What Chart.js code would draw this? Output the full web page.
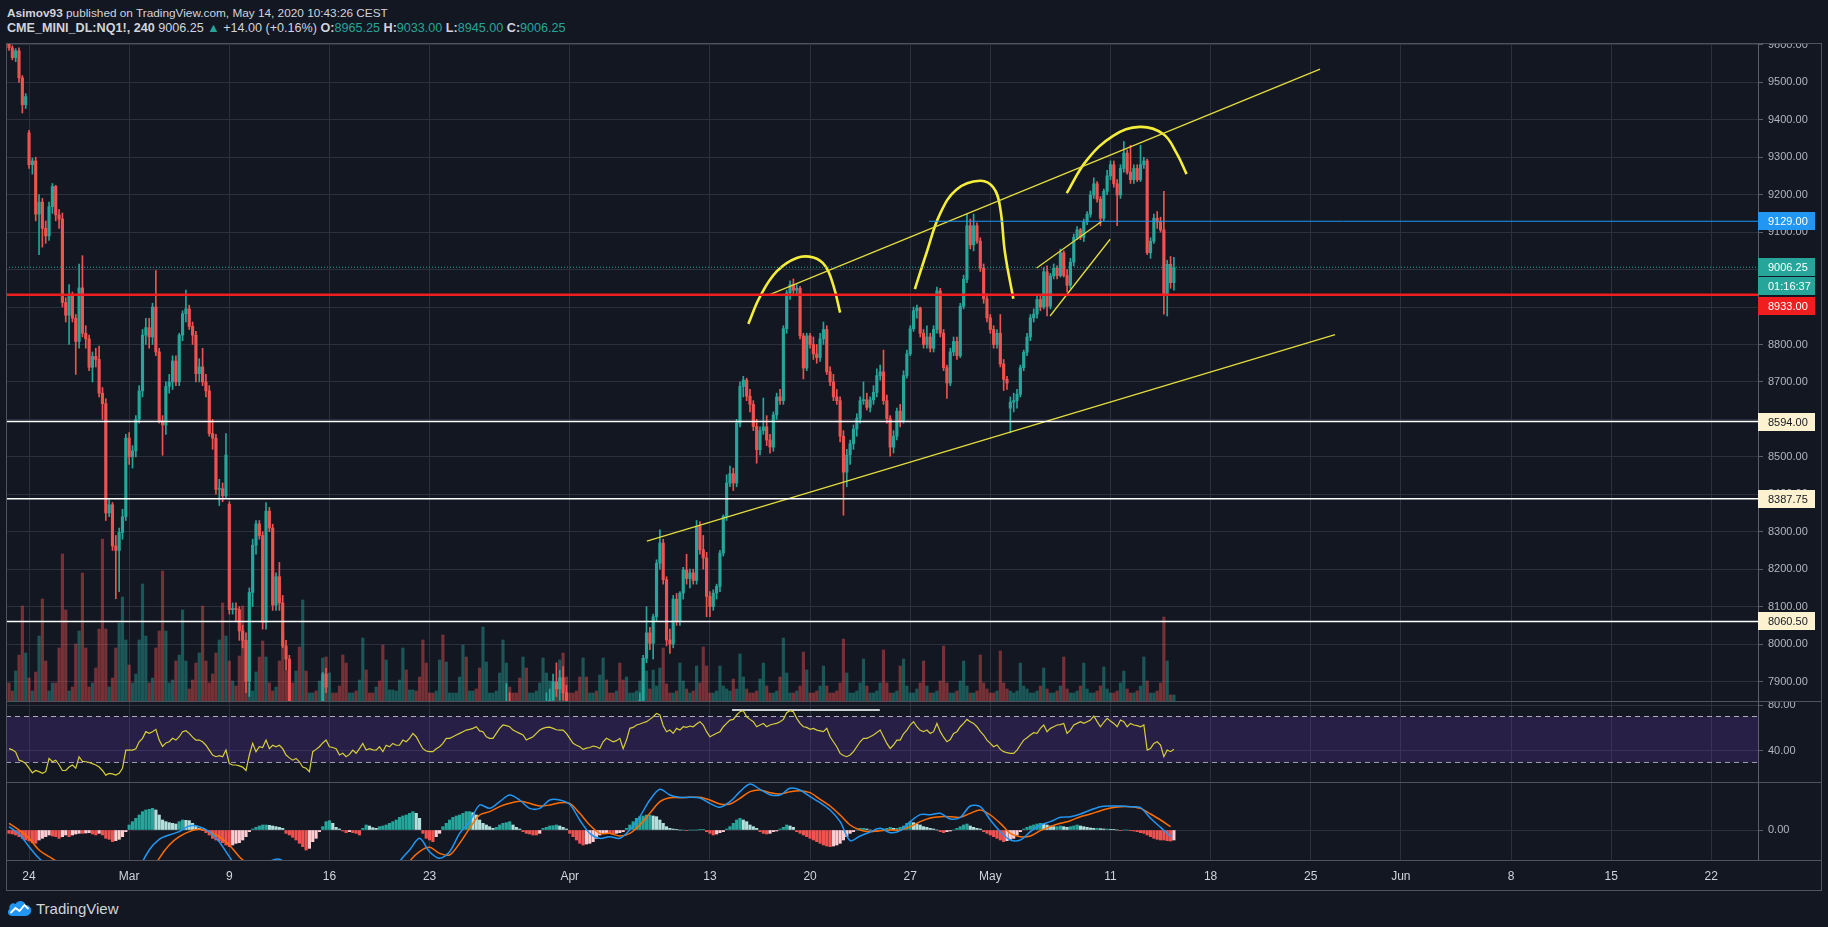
<!DOCTYPE html>
<html lang="en">
<head>
<meta charset="UTF-8">
<title>CME_MINI_DL:NQ1!, 240</title>
<script src="https://cdn.jsdelivr.net/npm/chart.js"></script>
<style>
  html, body { margin: 0; padding: 0; background: #131722; }
  body { width: 1828px; height: 927px; position: relative; overflow: hidden;
         font-family: "Liberation Sans", Arial, sans-serif; }
  .hdr { position: absolute; left: 7px; color: #d1d4dc; white-space: nowrap; }
  #h1 { top: 6px; font-size: 11.8px; }
  #h2 { top: 21px; font-size: 12.6px; }
  .b { font-weight: bold; }
  .up { color: #26a69a; }
  canvas { position: absolute; left: 6px; }
  .sep { position: absolute; left: 6px; width: 1816px; height: 1px; background: #50535e; }
  .frame { position: absolute; left: 6px; top: 43px; width: 1816px; height: 848px;
           border: 1px solid #50535e; box-sizing: border-box; }
  #logo { position: absolute; left: 6px; top: 898px; height: 20px; display: flex; align-items: center;
          color: #d1d4dc; font-size: 15px; }
  #logo svg { margin-right: 3px; }
</style>
</head>
<body>
<div class="hdr" id="h1"><span class="b">Asimov93</span> published on TradingView.com, May 14, 2020 10:43:26 CEST</div>
<div class="hdr" id="h2"><span class="b">CME_MINI_DL:NQ1!, 240</span> 9006.25 <span class="up">▲</span> +14.00 (+0.16%) <span class="b">O:</span><span class="up">8965.25</span> <span class="b">H:</span><span class="up">9033.00</span> <span class="b">L:</span><span class="up">8945.00</span> <span class="b">C:</span><span class="up">9006.25</span></div>

<canvas id="cPrice" width="1816" height="658" style="top:43px"></canvas>
<canvas id="cRsi" width="1816" height="81" style="top:701px"></canvas>
<canvas id="cMacd" width="1816" height="108" style="top:782px"></canvas>

<div class="frame"></div>
<div class="sep" style="top:701px"></div>
<div class="sep" style="top:782px"></div>
<div class="sep" style="top:860px"></div>

<div id="logo">
  <svg width="27" height="18" viewBox="0 0 26 18">
    <path d="M6 17 C1 17 0 12 3 10 C2 6 6 3 9 5 C11 1 18 1 19 6 C24 6 26 11 24 14 C23 16 21 17 19 17 Z" fill="#2196f3"/>
    <path d="M4 14 L9 9 L13 12 L18 6 L22 10" stroke="#ffffff" stroke-width="1.8" fill="none"/>
  </svg>
  <span>TradingView</span>
</div>

<script>
// ---------- axis ticks / labels ----------
const timeLabels    = ['24', 'Mar', '9', '16', '23', 'Apr', '13', '20', '27', 'May', '11', '18', '25', 'Jun', '8', '15', '22'];
const timeLabelBars = [6, 36, 66, 96, 126, 168, 210, 240, 270, 294, 330, 360, 390, 417, 450, 480, 510];
const priceTicks = [7900, 8000, 8100, 8200, 8300, 8400, 8500, 8600, 8700, 8800, 8900, 9000, 9100, 9200, 9300, 9400, 9500, 9600];
const rsiTicks = [40, 80];
const macdTicks = [0];

// ---------- 4h candles [open, high, low, close], one row per session day ----------
const candles = [
  [9612,9618,9585,9592],[9592,9598,9560,9566],[9566,9590,9555,9584],[9584,9592,9500,9512],[9512,9518,9418,9440],[9440,9470,9430,9462], // Feb 21
  [9365,9372,9270,9280],[9280,9298,9255,9290],[9290,9300,9130,9148],[9148,9200,9040,9180],[9180,9190,9060,9110],[9110,9130,9070,9090], // Feb 24
  [9090,9180,9078,9168],[9168,9230,9150,9222],[9222,9225,9130,9146],[9146,9160,9110,9135],[9135,9151,8900,8912],[8912,8925,8860,8878],
  [8878,8960,8800,8930],[8930,8940,8860,8870],[8870,8880,8720,8808],[8808,9015,8790,8951],[8951,9037,8820,8830],[8830,8850,8790,8815],
  [8815,8825,8730,8739],[8739,8780,8700,8768],[8768,8790,8740,8760],[8760,8796,8660,8670],[8670,8685,8600,8642],[8642,8655,8330,8350],
  [8350,8385,8340,8372],[8372,8378,8250,8262],[8262,8290,8121,8250],[8250,8310,8140,8298],[8298,8360,8280,8340],[8340,8560,8330,8550], // Feb 28
  [8550,8565,8480,8500],[8500,8530,8470,8516],[8516,8610,8500,8600],[8600,8690,8590,8676],[8676,8840,8660,8825],[8825,8870,8800,8845], // Mar 2
  [8845,8870,8790,8820],[8820,8910,8800,8900],[8900,8997,8770,8780],[8780,8790,8590,8596],[8596,8610,8504,8585],[8585,8700,8560,8688],
  [8688,8720,8670,8700],[8700,8770,8680,8756],[8756,8770,8690,8700],[8700,8830,8690,8825],[8825,8890,8810,8882],[8882,8945,8860,8895],
  [8895,8905,8840,8848],[8848,8860,8800,8825],[8825,8835,8700,8722],[8722,8762,8700,8740],[8740,8790,8690,8700],[8700,8720,8660,8676],
  [8676,8690,8555,8562],[8562,8600,8520,8550],[8550,8560,8400,8413],[8413,8440,8370,8415],[8415,8430,8380,8396],[8396,8562,8390,8505],
  [8373,8380,8080,8092],[8092,8110,8080,8095],[8095,8110,8060,8092],[8092,8100,8010,8035],[8035,8050,7990,8010],[8010,8030,7870,7900], // Mar 9
  [7900,8150,7860,8138],[8138,8280,8100,8264],[8264,8330,8240,8321],[8321,8330,8280,8290],[8290,8300,8040,8058],[8058,8378,8040,8355],
  [8355,8365,8300,8310],[8310,8320,8090,8104],[8104,8190,8090,8180],[8180,8218,8090,8110],[8110,8130,7990,7995],[7995,8010,7930,7960],
  [7960,7970,7700,7720],[7720,7740,7500,7530],[7530,7600,7480,7560],[7560,7620,7350,7400],[7400,7550,7300,7480],[7480,7520,7330,7380],
  [7380,7600,7300,7560],[7560,7700,7500,7650],[7650,7720,7520,7600],[7600,7800,7580,7780],[7780,7925,7740,7920],[7920,7935,7870,7885],
  [7400,7480,7350,7420],[7420,7450,7300,7380],[7380,7420,7250,7300],[7300,7350,7100,7150],[7150,7250,7000,7050],[7050,7150,6950,7000], // Mar 16
  [7000,7150,6900,7100],[7100,7250,7050,7200],[7200,7300,7100,7150],[7150,7350,7100,7300],[7300,7450,7250,7400],[7400,7450,7300,7350],
  [7350,7380,7100,7150],[7150,7200,6950,7000],[7000,7100,6900,7050],[7050,7150,6950,7000],[7000,7050,6800,6850],[6850,7000,6800,6950],
  [6950,7050,6850,7000],[7000,7100,6950,7050],[7050,7200,7000,7150],[7150,7300,7100,7250],[7250,7350,7150,7300],[7300,7350,7200,7250],
  [7250,7400,7200,7350],[7350,7450,7300,7400],[7400,7420,7250,7300],[7300,7350,7100,7150],[7150,7200,7000,7050],[7050,7100,6950,7000],
  [6900,6950,6750,6800],[6800,6850,6650,6700],[6700,6850,6630,6800],[6800,6950,6750,6900],[6900,7000,6800,6850],[6850,7050,6830,7000], // Mar 23
  [7000,7150,6980,7100],[7100,7250,7050,7200],[7200,7350,7150,7300],[7300,7450,7250,7400],[7400,7500,7350,7450],[7450,7500,7380,7420],
  [7420,7550,7400,7500],[7500,7600,7450,7550],[7550,7650,7350,7400],[7400,7450,7250,7300],[7300,7450,7280,7400],[7400,7500,7350,7450],
  [7450,7550,7400,7500],[7500,7600,7450,7550],[7550,7650,7500,7620],[7620,7720,7580,7700],[7700,7800,7650,7780],[7780,7895,7760,7840],
  [7840,7870,7700,7720],[7720,7750,7600,7650],[7650,7700,7550,7600],[7600,7650,7500,7550],[7550,7650,7500,7600],[7600,7620,7500,7540],
  [7500,7600,7450,7550],[7550,7650,7520,7620],[7620,7700,7600,7680],[7680,7780,7650,7750],[7750,7830,7720,7800],[7800,7870,7780,7830], // Mar 30
  [7830,7880,7780,7850],[7850,7920,7820,7900],[7900,7950,7860,7880],[7880,7930,7850,7910],[7910,7940,7850,7870],[7870,7890,7750,7780],
  [7760,7780,7600,7620],[7620,7650,7500,7550],[7550,7600,7450,7500],[7500,7550,7400,7450],[7450,7550,7420,7520],[7520,7560,7460,7480], // Apr 1
  [7480,7550,7420,7500],[7500,7580,7450,7550],[7550,7600,7480,7520],[7520,7650,7500,7620],[7620,7700,7580,7660],[7660,7690,7600,7640],
  [7640,7660,7550,7580],[7580,7620,7500,7540],[7540,7600,7480,7560],[7560,7580,7450,7480],[7480,7520,7420,7460],[7460,7500,7440,7490],
  [7560,7640,7540,7620],[7620,7700,7600,7680],[7680,7800,7660,7780],[7780,7870,7760,7850],[7850,7970,7840,7962],[7962,8100,7950,8030], // Apr 6
  [8030,8045,7985,8002],[8002,8080,7960,8073],[8073,8225,8060,8216],[8216,8305,8200,8270],[8270,8280,8160,8172],[8172,8180,7995,8011],
  [8011,8040,7975,8000],[8000,8130,7990,8120],[8120,8135,8050,8060],[8060,8140,8050,8136],[8136,8205,8120,8198],[8198,8240,8160,8175],
  [8175,8200,8150,8190],[8190,8200,8160,8170],[8170,8330,8160,8314],[8314,8327,8240,8252],[8252,8290,8200,8230],[8230,8245,8073,8127],
  [8127,8140,8073,8100],[8100,8145,8090,8136],[8136,8160,8120,8154],[8154,8250,8140,8243],[8243,8345,8235,8341],[8341,8452,8330,8430], // Apr 13
  [8430,8475,8420,8455],[8455,8470,8410,8430],[8430,8600,8420,8590],[8590,8700,8580,8688],[8688,8715,8660,8705],[8705,8710,8650,8662],
  [8662,8680,8620,8640],[8640,8650,8570,8581],[8581,8600,8483,8519],[8519,8580,8505,8570],[8570,8657,8560,8580],[8580,8610,8530,8545],
  [8545,8560,8510,8526],[8526,8620,8515,8612],[8612,8670,8600,8660],[8660,8680,8640,8650],[8650,8850,8640,8842],[8842,8945,8830,8938],
  [8938,8970,8920,8960],[8960,8975,8930,8945],[8945,8960,8930,8950],[8950,8955,8815,8823],[8823,8830,8708,8737],[8737,8830,8730,8823],
  [8823,8830,8790,8800],[8800,8820,8760,8775],[8775,8800,8750,8765],[8765,8830,8755,8815],[8815,8860,8800,8840],[8840,8850,8720,8727], // Apr 20
  [8727,8740,8690,8700],[8700,8720,8650,8660],[8660,8680,8640,8650],[8650,8660,8540,8555],[8555,8570,8344,8459],[8459,8520,8420,8505],
  [8505,8545,8480,8535],[8535,8585,8520,8574],[8574,8615,8555,8603],[8603,8660,8590,8650],[8650,8700,8640,8652],[8652,8670,8625,8632],
  [8632,8660,8620,8652],[8652,8690,8640,8672],[8672,8735,8660,8717],[8717,8745,8705,8727],[8727,8785,8640,8650],[8650,8665,8590,8602],
  [8602,8610,8502,8526],[8526,8570,8510,8555],[8555,8630,8545,8622],[8622,8640,8580,8595],[8595,8730,8590,8717],[8717,8785,8710,8775],
  [8775,8850,8770,8842],[8842,8900,8835,8890],[8890,8905,8870,8897],[8897,8900,8820,8830],[8830,8840,8790,8800],[8800,8850,8790,8820], // Apr 27
  [8820,8830,8780,8790],[8790,8850,8780,8840],[8840,8953,8830,8943],[8943,8950,8820,8830],[8830,8840,8730,8738],[8738,8745,8656,8697],
  [8697,8790,8690,8780],[8780,8820,8770,8808],[8808,8820,8760,8770],[8770,8910,8765,8902],[8902,8985,8895,8974],[8974,9148,8965,9117],
  [9117,9135,9055,9066],[9066,9148,9050,9117],[9117,9125,9070,9076],[9076,9085,8995,9004],[9004,9015,8910,8922],[8922,8935,8860,8871],
  [8871,8880,8830,8840],[8840,8850,8790,8800],[8800,8840,8790,8830],[8830,8880,8740,8748],[8748,8760,8677,8707],[8707,8715,8680,8697], // May 1
  [8630,8660,8564,8646],[8646,8670,8620,8650],[8650,8680,8630,8667],[8667,8745,8660,8738],[8738,8785,8730,8779],[8779,8830,8770,8820], // May 4
  [8820,8880,8810,8871],[8871,8895,8860,8881],[8881,8930,8870,8920],[8920,8930,8890,8900],[8900,9005,8895,8994],[8994,9010,8876,8902],
  [8902,8990,8895,8983],[8983,9015,8975,9004],[9004,9010,8975,8984],[8984,9055,8980,9045],[9045,9050,8980,8984],[8984,9000,8940,8958],
  [8958,9030,8950,9020],[9020,9095,9010,9086],[9086,9115,9080,9106],[9106,9110,9080,9086],[9086,9135,9075,9127],[9127,9155,9120,9148],
  [9148,9210,9140,9199],[9199,9245,9190,9229],[9229,9235,9180,9188],[9188,9195,9117,9137],[9137,9215,9130,9209],[9209,9265,9200,9250],
  [9250,9290,9240,9280],[9280,9290,9220,9229],[9229,9240,9117,9199],[9199,9280,9190,9270],[9270,9342,9260,9311],[9311,9320,9255,9260], // May 11
  [9260,9332,9230,9240],[9240,9280,9230,9270],[9270,9280,9235,9240],[9240,9332,9235,9280],[9280,9300,9270,9290],[9290,9295,9040,9045],
  [9045,9085,9030,9076],[9076,9148,9070,9137],[9137,9155,9110,9127],[9127,9140,9100,9106],[9106,9209,8881,8933],[8933,9025,8876,9014],
  [9014,9035,8950,8965],[8965,9033,8945,9006.25]
];

// volume per bar (k contracts)
const volumes = [
  18,10,30,46,95,48,  23,10,29,65,102,40,  10,18,18,53,147,91,  10,14,57,70,128,53,  14,18,33,72,162,72,
  14,23,53,78,104,61, 36,18,27,61,117,65,  18,23,53,70,130,70,  18,21,40,46,91,40,   12,21,38,48,95,40,
  18,27,48,61,98,65,  40,20,15,45,95,60,   18,10,29,44,60,44,   18,10,14,40,70,30,   18,18,30,54,101,30,
  8,8,10,20,43,44,    28,8,8,15,46,38,     8,8,10,21,63,31,     8,8,14,20,56,41,     11,11,10,21,53,31,
  11,11,10,24,61,38,  8,8,10,41,66,39,     8,8,8,24,56,44,      10,10,12,33,74,39,   8,8,10,28,61,38,
  14,8,8,23,44,33,    8,8,10,18,43,28,     20,10,15,41,48,24,   8,8,10,24,43,24,     8,8,10,26,43,21,
  8,8,10,38,21,24,    8,8,10,20,43,30,     12,31,15,33,53,17,   8,8,10,38,20,12,     8,10,35,18,54,35,
  8,8,10,35,15,12,    10,22,12,47,24,12,   8,8,10,22,38,15,     8,8,10,24,63,28,     8,8,10,15,49,31,
  8,8,10,15,35,15,    8,8,10,18,62,28,     8,8,10,18,42,15,     8,8,10,18,51,18,     8,8,10,35,42,15,
  8,8,12,18,40,15,    8,8,10,20,55,18,     8,8,10,20,40,15,     8,8,10,46,18,12,     8,8,10,50,18,12,
  10,8,10,38,15,12,   8,8,10,15,33,12,     8,8,10,15,44,12,     8,8,10,15,38,12,     8,8,10,15,34,12,
  8,8,10,18,30,12,    8,8,10,15,44,20,     8,8,10,18,84,40,     6,6
];

// RSI(14) per bar
const rsiValues = [
  42,41,39,32,31,29,  25,21,23,22,20.5,22,  33.5,30.6,32,28,23,23,  26,27.8,25,35,31,30.6,  30,29,27.8,26,23,19,
  20.5,20,19,20.5,25,40.8,  40.8,40.8,42,48,51,56.8,  55.3,56.8,58.8,49.5,44,47,  48,51,49.5,52.4,56.8,57.6,
  55.3,52,49.5,49.5,48,45,  40.8,36.5,35,36,35,40.8,  29,27.8,27.8,27,26,23,  36.5,46.6,39.4,43.7,43,49.5,
  42,45,43.7,45,42,36.5,  34,32,33.5,30.6,26,25,  22,39.4,41.4,43.7,47,49.5,  43.7,43,42,36.5,38,35,
  37,40.8,38,42,46.6,40.8,  42,41,40.8,43.7,39.4,45,  43.7,46.6,45,45,49.5,48,  51,55.3,52.4,47,42,40,
  39.4,39.4,42,43.7,46.6,51,  51,52.4,53.9,55.3,56.8,58.2,  58.8,59.7,61.1,57.5,56.8,52.4,  51,51,55.3,59.7,62.6,62,
  61.1,58.2,56.8,55.3,53.9,49.5,  51,52.4,55.3,58.2,59.7,60.5,  60.8,59.7,58.5,58.2,58.2,55.3,  51,46.6,45,43.7,41.4,42.5,
  43,44.3,43.7,42.2,48,51,  49.5,48,49,51,42,49.5,  59.7,60.5,62.6,63.5,64.6,65.5,  67.5,69.8,72.7,71.3,62,56.8,
  58.2,55.3,59.7,58.2,61.1,60.5,  61.7,61.1,63.5,65.5,62.6,56.8,  52.4,53.9,55.5,56.8,61.1,64,  66.9,67.5,71.3,74.2,75,69.8,
  67.5,65.5,61.1,62.6,64,61.1,  62.6,63.5,64,65.5,67.5,73.3,  75,74.2,68.4,64,61.1,60.5,  58.8,59.7,58.2,57.5,56.8,59.7,
  52.4,48,43.7,37.9,36,35,  36.5,39.4,43.7,48,51,51,  52.4,53.9,56,58.2,52.4,46.6,  42.2,45.2,49.5,49.5,55,58.2,
  62.6,65.5,61.1,58,56.8,58.2,  55.3,56.8,64,56.8,52,48,  50,55.3,56.8,61.1,64,67.5,  65.5,64,61.1,57,53.9,49.5,
  46.6,43.7,45.2,41.4,39.4,38.5,  37.9,37.9,40.8,45.2,49.5,51.5,  53.9,55.9,55.3,59.7,62.6,56.8,  59.7,61.1,62.6,63,64,55.3,
  58.2,62.6,64,65.5,64,65.5,  66.9,70.4,65.5,61.1,65,68.4,  66,64,61.1,66.9,65.5,61.1,  64,62.6,62,61.1,62.6,40.8,
  42.2,46.6,48,45.2,35,40.8,  39.4,41.5
];

// MACD(12,26,9): lines read every 3rd bar, histogram per bar
const macdStep = 3;
const macdLine = [
  10,-12,-50,-85,-110,-140,-170,-185,-200,-215,
  -240,-250,-230,-120,-60,-28,-15,-5,12,10,
  -5,-35,-80,-120,-140,-120,-95,-88,-110,-150,
  -190,-200,-210,-230,-240,-230,-220,-210,-150,-95,
  -60,-25,-65,-85,-65,-10,25,75,65,85,
  105,90,65,65,90,90,77,30,-10,-25,
  -20,-25,0,40,90,122,105,98,98,96,
  80,68,85,115,138,122,106,105,125,120,
  100,82,60,25,-32,-18,-6,5,-8,-2,
  25,46,46,50,33,38,72,70,30,-5,
  -30,-30,-5,15,25,38,40,48,60,70,
  72,72,70,67,35,8,-20
];
const macdSignal = [
  20,0,-25,-60,-80,-98,-120,-140,-160,-178,
  -198,-213,-225,-190,-140,-85,-45,-20,-5,2,
  -5,-20,-45,-80,-105,-115,-110,-100,-100,-115,
  -135,-160,-175,-190,-205,-210,-212,-210,-200,-160,
  -95,-65,-52,-70,-75,-40,5,45,55,70,
  80,86,80,72,75,82,80,50,15,-10,
  -10,-18,-10,15,50,85,97,97,98,98,
  90,78,78,95,115,120,112,108,115,118,
  112,92,72,45,15,0,-5,-2,0,0,
  10,25,36,40,40,38,50,60,45,20,
  -10,-20,-18,-2,10,20,28,40,48,58,
  66,70,70,65,48,30,10
];
const macdHist = [
  -10,-12,-15,-20,-25,-30,  -33,-38,-40,-30,-25,-20,  -15,-18,-20,-25,-20,-15,  -20,-15,-12,-10,-10,-9,  -8,-12,-15,-10,-15,-25,
  -28,-35,-32,-28,-20,-5,  15,25,35,45,55,60,  62,65,60,45,30,25,  22,20,18,25,30,29,  28,20,12,5,-2,-8,
  -15,-25,-30,-33,-38,-45,  -50,-45,-40,-38,-30,-20,  -5,3,8,12,15,15,  14,12,10,8,5,-10,  -15,-22,-30,-40,-50,-60,
  -55,-35,-25,-5,10,25,  28,20,8,3,-3,-8,  -5,-8,-10,-15,5,15,  12,7,5,10,12,15,  20,25,30,38,42,45,
  50,55,50,35,-10,-25,  -30,-35,-20,-10,10,20,  30,38,42,45,50,55,  55,52,45,30,20,15,  10,5,8,15,20,22,
  25,15,8,3,-5,-10,  -12,-15,-15,-10,5,8,  12,13,15,12,8,3,  -10,-20,-30,-40,-45,-42,  -40,-35,-25,-15,-10,-8,
  -10,-12,-10,-8,-5,5,  15,25,35,40,42,45,  45,42,40,30,20,10,  5,3,1,0,0,-1,  0,0,0,1,2,-5,
  -10,-15,-12,-8,-5,3,  10,20,30,35,30,25,  15,10,5,-5,-10,-12,  -10,-5,-3,3,8,15,  12,8,-5,-10,-15,-20,
  -25,-30,-35,-40,-45,-48,  -50,-48,-45,-40,-30,-20,  -10,-5,0,5,5,3,  0,-3,-5,0,3,5,  8,5,5,8,12,20,
  25,22,18,15,10,8,  5,3,0,-5,-8,-5,  -3,0,5,10,15,18,  12,8,5,3,-5,-10,  -15,-20,-25,-30,-35,-32,
  -28,-25,-15,-5,3,8,  12,15,18,20,18,15,  12,10,10,12,10,8,  10,12,15,12,10,8,  6,5,5,4,3,3,
  2,1,0,-1,0,0,  -2,-3,-5,-8,-10,-15,  -20,-25,-28,-30,-30,-32,  -33,-30
];

// ---------- price levels and drawings (bar index, price) ----------
const lastPrice = 9006.25;
const countdown = '01:16:37';
const blueLevel = 9129;
const blueLevelStart = 275.6;
const redLevel = 8933;
const whiteLevels = [8594, 8387.75, 8060.5];
const lowerChannel = [[191.1, 8275], [397.3, 8826]];
const upperChannel = [[227.9, 8933], [392.8, 9535]];
const flagUpper = [[307.9, 9004], [327.4, 9129]];
const flagLower = [[311.9, 8876], [329.9, 9081]];
const arc1 = [[221.5, 8855], [225, 8928], [230, 8995], [236, 9031], [241, 9032], [244.5, 9010], [247, 8957], [249, 8885]];
const arc2 = [[271.4, 8948], [274.9, 9045], [278.9, 9148], [283.9, 9214], [290.9, 9237], [294.9, 9219], [296.9, 9168], [298.4, 9045], [300.9, 8922]];
const arc3 = [[316.9, 9204], [322.8, 9291], [330.8, 9357], [338.8, 9381], [345.8, 9362], [349.8, 9311], [352.8, 9255]];
const rsiMarker = [[216.6, 75.7], [260.9, 75.7]];

// ---------- look ----------
const X_MIN = -0.9, X_MAX = 524;
const GRID = '#2c303c', AXIS = '#5d606b', TXT = '#b2b5be';
const UP = '#26a69a', DOWN = '#ef5350';
const FONT = '"Liberation Sans", Arial, sans-serif';
Chart.defaults.font.family = FONT;
Chart.defaults.color = TXT;

const isUp = candles.map(c => c[3] >= c[0]);
const candleCol = isUp.map(u => (u ? UP : DOWN));
const volCol = isUp.map(u => (u ? 'rgba(38,166,154,0.45)' : 'rgba(239,83,80,0.45)'));

function line(points, color, width, extra) {
  return Object.assign({
    type: 'line',
    data: points.map(p => ({ x: p[0], y: p[1] })),
    borderColor: color, borderWidth: width,
    pointRadius: 0, tension: 0, fill: false, order: 0
  }, extra || {});
}
function hline(v, color, width, extra) {
  return line([[X_MIN, v], [X_MAX, v]], color, width, extra);
}
function noPad(s) {
  s.paddingTop = 0; s.paddingBottom = 0; s.paddingLeft = 0; s.paddingRight = 0;
}

function xScale(withLabels) {
  return {
    type: 'linear', min: X_MIN, max: X_MAX, offset: false,
    grid: { color: GRID, drawTicks: false, offset: false },
    border: { display: false },
    ticks: {
      display: withLabels, autoSkip: false, maxRotation: 0, padding: 9,
      color: '#d1d4dc', font: { size: 12 },
      callback: (v, i) => timeLabels[i]
    },
    afterBuildTicks: s => { s.ticks = timeLabelBars.map(v => ({ value: v })); },
    afterFit: s => { s.height = withLabels ? 30 : 0; noPad(s); }
  };
}
function yScale(min, max, ticks) {
  return {
    position: 'right', min, max,
    grid: { color: GRID, tickLength: 5, tickColor: AXIS },
    border: { display: true, color: AXIS },
    ticks: { color: TXT, font: { size: 11 }, padding: 5, callback: v => v.toFixed(2) },
    afterBuildTicks: s => { s.ticks = ticks.map(v => ({ value: v })); },
    afterFit: s => { s.width = 64; noPad(s); }
  };
}
const baseOptions = {
  responsive: false, animation: false, devicePixelRatio: 1, events: [],
  layout: { padding: 0 },
  plugins: { legend: { display: false }, tooltip: { enabled: false } }
};

// price-axis tags (last price, countdown, levels)
const axisTags = {
  id: 'axisTags',
  afterDraw(chart) {
    const { ctx, chartArea, scales } = chart;
    const y = scales.y;
    const x0 = chartArea.right, w = 57, h = 18;
    ctx.save();
    ctx.font = '11px ' + FONT;
    ctx.textBaseline = 'middle';
    const tag = (cy, text, bg, fg) => {
      ctx.fillStyle = bg;
      ctx.fillRect(x0, Math.round(cy - h / 2), w, h);
      ctx.fillStyle = fg;
      ctx.fillText(text, x0 + 10, Math.round(cy) + 0.5);
    };
    whiteLevels.forEach(v => tag(y.getPixelForValue(v), v.toFixed(2), '#fdf2cf', '#131722'));
    tag(y.getPixelForValue(blueLevel), blueLevel.toFixed(2), '#2196f3', '#ffffff');
    const cLast = y.getPixelForValue(lastPrice);
    const cCount = cLast + h + 1;
    const cRed = Math.max(y.getPixelForValue(redLevel), cCount + h + 2);
    tag(cRed, redLevel.toFixed(2), '#f01e1e', '#ffffff');
    tag(cLast, lastPrice.toFixed(2), UP, '#ffffff');
    tag(cCount, countdown, UP, '#ffffff');
    ctx.restore();
  }
};

// ---------- price pane ----------
new Chart(document.getElementById('cPrice'), {
  type: 'bar',
  data: {
    datasets: [
      { type: 'bar', yAxisID: 'yVol', order: 10, grouped: false, barThickness: 2.5,
        data: volumes.map((v, i) => ({ x: i, y: v })), backgroundColor: volCol },
      { type: 'bar', order: 6, grouped: false, barThickness: 1,
        data: candles.map((c, i) => ({ x: i, y: [c[2], c[1]] })), backgroundColor: candleCol },
      { type: 'bar', order: 5, grouped: false, barThickness: 2.5, minBarLength: 1,
        data: candles.map((c, i) => ({ x: i, y: [c[0], c[3]] })), backgroundColor: candleCol },
      ...whiteLevels.map(v => hline(v, '#ffffff', 1.5)),
      hline(lastPrice, UP, 1, { borderDash: [1, 2] }),
      line([[blueLevelStart, blueLevel], [X_MAX, blueLevel]], '#2196f3', 1),
      hline(redLevel, '#f01e1e', 2.5),
      line(lowerChannel, '#e3dc3c', 1.3),
      line(upperChannel, '#e3dc3c', 1.3),
      line(flagUpper, '#e3dc3c', 1.3),
      line(flagLower, '#e3dc3c', 1.3),
      line(arc1, '#f4ee3a', 2.6, { tension: 0.4 }),
      line(arc2, '#f4ee3a', 2.6, { tension: 0.4 }),
      line(arc3, '#f4ee3a', 2.6, { tension: 0.4 })
    ]
  },
  options: Object.assign({}, baseOptions, {
    scales: {
      x: xScale(false),
      y: yScale(7848, 9605, priceTicks),
      yVol: { display: false, min: 0, max: 658 }
    }
  }),
  plugins: [axisTags]
});

// ---------- RSI pane ----------
new Chart(document.getElementById('cRsi'), {
  type: 'line',
  data: {
    datasets: [
      hline(70, 'rgba(220,222,230,0.75)', 1, { borderDash: [5, 4], fill: '+1', backgroundColor: 'rgba(103,58,183,0.24)', order: 5 }),
      hline(30, 'rgba(220,222,230,0.75)', 1, { borderDash: [5, 4], order: 5 }),
      line(rsiValues.map((v, i) => [i, v]), '#d6cf3a', 1.2),
      line(rsiMarker, '#c9cbd2', 2)
    ]
  },
  options: Object.assign({}, baseOptions, {
    scales: { x: xScale(false), y: yScale(13, 83.5, rsiTicks) }
  })
});

// ---------- MACD pane ----------
const histCol = macdHist.map((v, i) => {
  const prev = i > 0 ? macdHist[i - 1] : v;
  if (v >= 0) return v >= prev ? '#26a69a' : '#b2dfdb';
  return v <= prev ? '#ef5350' : '#ffcdd2';
});
new Chart(document.getElementById('cMacd'), {
  type: 'bar',
  data: {
    datasets: [
      { type: 'bar', order: 5, grouped: false, barThickness: 2.5,
        data: macdHist.map((v, i) => ({ x: i, y: v })), backgroundColor: histCol },
      line(macdLine.map((v, k) => [k * macdStep, v]), '#2196f3', 1.5, { tension: 0.3 }),
      line(macdSignal.map((v, k) => [k * macdStep, v]), '#ff6d00', 1.5, { tension: 0.3 })
    ]
  },
  options: Object.assign({}, baseOptions, {
    scales: { x: xScale(true), y: yScale(-90, 144, macdTicks) }
  })
});
</script>
</body>
</html>
